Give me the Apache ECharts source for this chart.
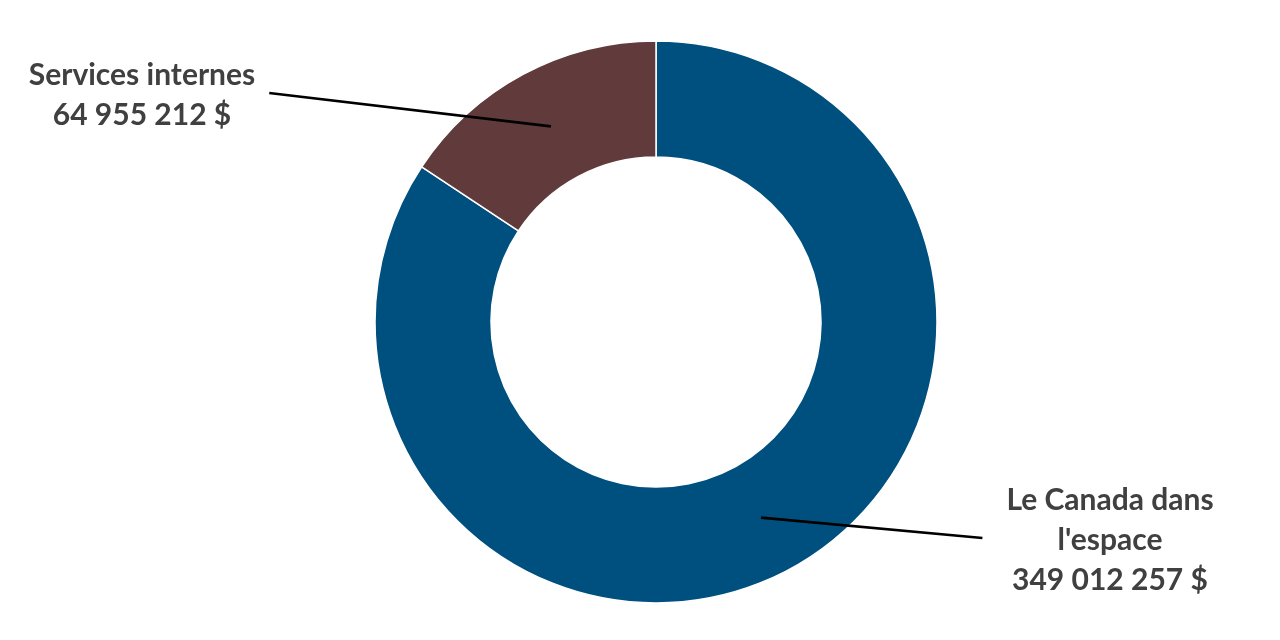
<!DOCTYPE html>
<html>
<head>
<meta charset="utf-8">
<script src="https://cdn.jsdelivr.net/npm/echarts@6/dist/echarts.min.js"></script>
<style>
  html, body { margin: 0; padding: 0; background: #ffffff; }
  #chart { width: 1280px; height: 640px; }
</style>
</head>
<body>
<div id="chart"></div>
<script>
// Data
var categories = ["Le Canada dans\nl'espace", "Services internes"];
var values = [349012257, 64955212];
var colors = ['#00507F', '#613A3C'];

// Label placement (layout only)
var labelPos = [
  { x: 1110, y: 540, side: 'left' },
  { x: 142, y: 95, side: 'right' }
];

function fmt(v) {
  return String(v).replace(/\B(?=(\d{3})+(?!\d))/g, ' ') + ' $';
}

var cx = 656, cy = 322;
var seriesData = categories.map(function (c, i) {
  return { name: c, value: values[i], itemStyle: { color: colors[i] } };
});

var chart = echarts.init(document.getElementById('chart'));
chart.setOption({
  animation: false,
  series: [
    {
      type: 'pie',
      center: [cx, cy],
      radius: [165, 281],
      startAngle: 90,
      clockwise: true,
      silent: true,
      itemStyle: { borderColor: '#ffffff', borderWidth: 1.5 },
      label: { show: false },
      labelLine: { show: false },
      data: seriesData
    },
    {
      type: 'pie',
      center: [cx, cy],
      radius: [0, 222],
      startAngle: 90,
      clockwise: true,
      silent: true,
      z: 5,
      itemStyle: { color: 'rgba(0,0,0,0)', borderWidth: 0 },
      label: {
        show: true,
        position: 'outside',
        formatter: function (p) { return p.name + '\n' + fmt(p.value); },
        fontFamily: 'Lato',
        fontWeight: 'bold',
        fontSize: 30,
        lineHeight: 40,
        color: '#404040',
        align: 'center'
      },
      labelLine: {
        show: true,
        length: 10,
        length2: 10,
        smooth: false,
        lineStyle: { color: '#000000', width: 2.7 }
      },
      labelLayout: function (params) {
        var lp = labelPos[params.dataIndex];
        var w = params.labelRect.width;
        var start = params.labelLinePoints && params.labelLinePoints[0];
        var ex = lp.side === 'right' ? lp.x + w / 2 + 14 : lp.x - w / 2 - 24;
        var end = [ex, lp.y - 2];
        var res = { x: lp.x, y: lp.y, align: 'center', verticalAlign: 'middle' };
        if (start) res.labelLinePoints = [start, end, end];
        return res;
      },
      data: categories.map(function (c, i) {
        return { name: c, value: values[i] };
      })
    }
  ]
});
</script>
</body>
</html>
